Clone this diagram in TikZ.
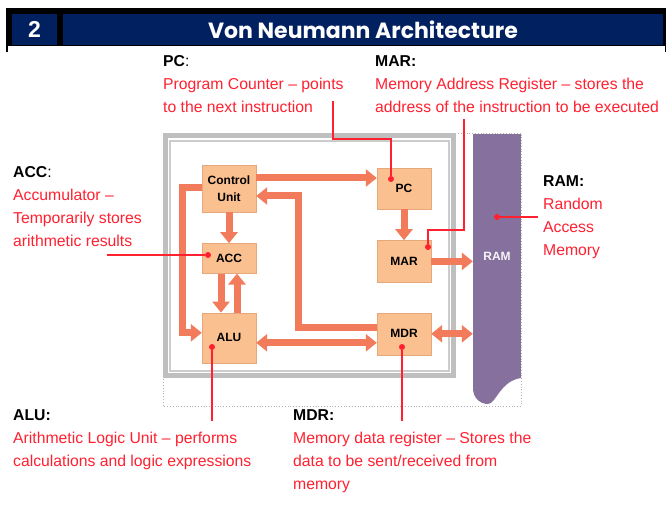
\documentclass[tikz,border=0pt]{standalone}
\usepackage{fontspec}
\setmainfont{Liberation Sans}
\newfontfamily\headfont{Poppins}
\usetikzlibrary{arrows.meta, positioning}
\definecolor{navy}{HTML}{002060}
\definecolor{arrowc}{HTML}{F27B5B}
\definecolor{boxfill}{HTML}{FAC090}
\definecolor{boxline}{HTML}{E6A77A}
\definecolor{ramc}{HTML}{86709E}
\definecolor{framegray}{HTML}{BFBFBF}
\definecolor{notered}{HTML}{FF2030}

\begin{document}
\begin{tikzpicture}[x=1pt, y=-1pt,
    node distance=31pt,
    box/.style={draw=boxline, fill=boxfill, minimum width=54pt, inner sep=0pt, align=center, font=\bfseries\fontsize{12}{17}\selectfont},
    fat/.style={line width=7pt, draw=arrowc, -{Triangle[width=17pt,length=11pt]}},
    fatboth/.style={fat, {Triangle[width=17pt,length=11pt]}-{Triangle[width=17pt,length=11pt]}},
    redline/.style={draw=notered, line width=1.6pt},
    reddot/.style={circle, fill=notered, inner sep=0pt, minimum size=6pt},
    headtext/.style={anchor=base west, inner sep=0pt, font=\fontsize{15.75}{23}\selectfont},
    notetext/.style={headtext, align=left, text=notered}
]
\useasboundingbox (0,0) rectangle (667,505);

% title bar
\fill (6,8) rectangle (666,46);
\draw[line width=1.2pt] (7,46) -- (7,52) (665.5,46) -- (665.5,52);
\node[fill=navy, minimum width=45pt, minimum height=31pt, inner sep=0pt, text=white, font=\bfseries\fontsize{23}{23}\selectfont] (num) at (34.5,29.5) {2};
\node[fill=navy, minimum width=600pt, minimum height=31pt, inner sep=0pt, text=white, font=\headfont\bfseries\fontsize{22}{22}\selectfont] (title) at (363,29.5) {Von Neumann Architecture};

% frame
\draw[gray!60, dotted, line width=0.8pt] (163,133) rectangle (521,406);
\draw[framegray, line width=5pt] (165.5,135.5) rectangle (453.5,375.5);
\draw[framegray!80, line width=1.2pt] (170,141) rectangle (449,371);

% RAM
\node[fill=ramc, minimum width=48pt, minimum height=244pt, inner sep=0pt, text=white!92!ramc, font=\bfseries\fontsize{12}{14}\selectfont] (ram) at (497,256) {RAM};
\fill[ramc] (473,377) -- (473,388) .. controls (473,398) and (480,404) .. (488,404) .. controls (496,404) and (500,381) .. (521,378) -- (521,377) -- cycle;

% CPU parts
\node[box, minimum height=47pt] (cu) at (229,188.5) {Control\\Unit};
\node[box, minimum height=30pt, below=of cu] (acc) {ACC};
\node[box, minimum height=50pt, below=39pt of acc] (alu) {ALU};
\node[box, minimum height=41pt] (pc) at (404,188.5) {PC};
\node[box, minimum height=42pt, below=of pc] (mar) {MAR};
\node[box, minimum height=42pt, below=30pt of mar] (mdr) {MDR};

% buses
\draw[fat] ([yshift=10.5pt]cu.east) -- ([yshift=10.5pt]pc.west);
\draw[fat] ([yshift=6pt]mdr.west) -- ++(-78,0) |- ([yshift=-7.5pt]cu.east);
\draw[fat] (cu) -- (acc);
\draw[fat] ([yshift=0.5pt]cu.west) -- ++(-19,0) |- ([yshift=5pt]alu.west);
\draw[fat] ([xshift=-8pt]acc.south) -- ([xshift=-8pt]alu.north);
\draw[fat] ([xshift=8pt]alu.north) -- ([xshift=8pt]acc.south);
\draw[fatboth] ([yshift=-5pt]alu.east) -- ([yshift=-9pt]mdr.west);
\draw[fat] (pc) -- (mar);
\draw[fat] (mar) -- (mar -| ram.west);
\draw[fatboth] (mdr) -- (mdr -| ram.west);

% notes (multi-line notes sit on their last baseline)
\node[headtext] (pch) at (163,67) {\textbf{PC}:};
\node[notetext] (pctxt) at (163,113) {Program Counter – points\\to the next instruction};
\node[headtext] (marh) at (375,67) {\textbf{MAR:}};
\node[notetext] (martxt) at (375,113) {Memory Address Register – stores the\\address of the instruction to be executed};
\node[headtext] (acch) at (13,178) {\textbf{ACC}:};
\node[notetext] (acctxt) at (13,247) {Accumulator –\\Temporarily stores\\arithmetic results};
\node[headtext] (ramh) at (543,187) {\textbf{RAM:}};
\node[notetext] (ramtxt) at (543,256) {Random\\Access\\Memory};
\node[headtext] (aluh) at (13,420) {\textbf{ALU:}};
\node[notetext] (alutxt) at (13,466) {Arithmetic Logic Unit – performs\\calculations and logic expressions};
\node[headtext] (mdrh) at (293,420) {\textbf{MDR:}};
\node[notetext] (mdrtxt) at (293,489) {Memory data register – Stores the\\data to be sent/received from\\memory};

% pointers
\node[reddot] (dpc) at (391,179) {};
\node[reddot] (dmar) at (428,247) {};
\node[reddot] (dacc) at (208,255) {};
\node[reddot] (dram) at (497,217) {};
\node[reddot] (dalu) at (212,347) {};
\node[reddot] (dmdr) at (402,347) {};
\coordinate (epc) at (333,101);
\coordinate (emar) at (464,119);
\coordinate (eacc) at (107,255);
\coordinate (eram) at (538,217);
\coordinate (ealu) at (212,421);
\coordinate (emdr) at (402,421);
\draw[redline] (epc) -- (333,139) -| (dpc);
\draw[redline] (emar) -- (464,230) -| (dmar);
\draw[redline] (eacc) -- (dacc);
\draw[redline] (dram) -- (eram);
\draw[redline] (dalu) -- (ealu);
\draw[redline] (dmdr) -- (emdr);
\end{tikzpicture}
\end{document}
